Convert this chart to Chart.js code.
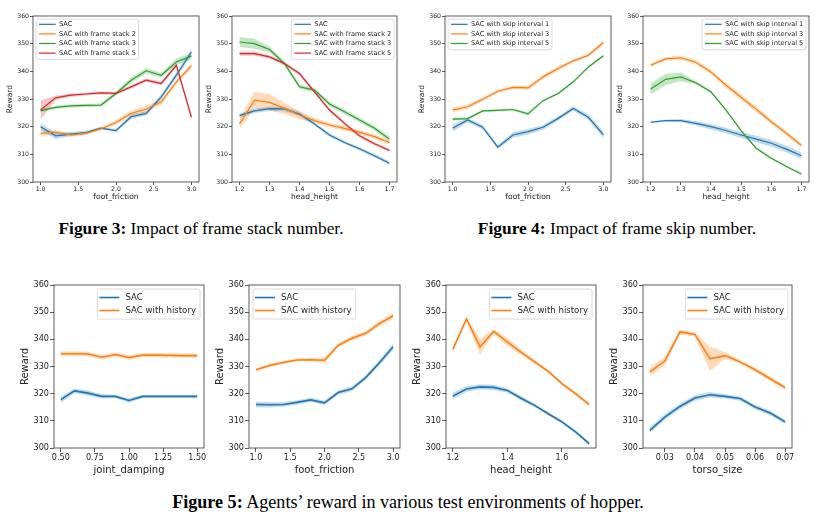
<!DOCTYPE html>
<html>
<head>
<meta charset="utf-8">
<script src="https://cdn.jsdelivr.net/npm/chart.js@4.4.1/dist/chart.umd.min.js"></script>
<style>
    body { margin: 0; background: #fff; width: 831px; height: 522px; overflow: hidden; position: relative; }
    .box { position: absolute; }
    .cap { position: absolute; font-family: "Liberation Serif", serif; line-height: 18px; color: #000; white-space: nowrap; transform: translateX(-50%); }
</style>
</head>
<body>
<div class="cap" style="left:201px; top:219px; font-size:17.4px"><b>Figure 3:</b> Impact of frame stack number.</div>
<div class="cap" style="left:617px; top:219px; font-size:17.4px"><b>Figure 4:</b> Impact of frame skip number.</div>
<div class="cap" style="left:408px; top:493px; font-size:18.1px"><b>Figure 5:</b> Agents’ reward in various test environments of hopper.</div>
<script>
// x values of the test environments
const frictionX = [1.0, 1.2, 1.4, 1.6, 1.8, 2.0, 2.2, 2.4, 2.6, 2.8, 3.0];
const heightX = [1.2, 1.25, 1.3, 1.35, 1.4, 1.45, 1.5, 1.55, 1.6, 1.65, 1.7];
const dampingX = [0.5, 0.6, 0.7, 0.8, 0.9, 1.0, 1.1, 1.2, 1.3, 1.4, 1.5];
const torsoX = [0.025, 0.03, 0.035, 0.04, 0.045, 0.05, 0.055, 0.06, 0.065, 0.07];

// legend labels
const stackLabels = ["SAC", "SAC with frame stack 2", "SAC with frame stack 3", "SAC with frame stack 5"];
const skipLabels = ["SAC with skip interval 1", "SAC with skip interval 3", "SAC with skip interval 5"];
const historyLabels = ["SAC", "SAC with history"];

// tick labels
const rewardTicks = ["300", "310", "320", "330", "340", "350", "360"];
const frictionTicks = ["1.0", "1.5", "2.0", "2.5", "3.0"];
const heightTicksTop = ["1.2", "1.3", "1.4", "1.5", "1.6", "1.7"];
const heightTicksBottom = ["1.2", "1.4", "1.6"];
const dampingTicks = ["0.50", "0.75", "1.00", "1.25", "1.50"];
const torsoTicks = ["0.03", "0.04", "0.05", "0.06", "0.07"];

// Figure 3 - foot_friction
const stackFricSac = [320, 316.7, 317.3, 317.9, 319.5, 318.6, 323.6, 324.8, 330.8, 338.6, 347];
const stackFricSacErr = [1.2, 1.2, 0.8, 0.6, 0.5, 0.5, 0.8, 0.8, 0.8, 1, 1.2];
const stackFric2 = [317.6, 318, 317, 317.6, 319.2, 321.5, 324.8, 326.3, 329, 336.2, 342];
const stackFric2Err = [1, 0.8, 0.6, 0.6, 0.5, 0.8, 1, 1.2, 1, 0.8, 1];
const stackFric3 = [325.8, 327, 327.5, 327.7, 327.8, 332, 336.8, 340.2, 338.6, 343.4, 345.5];
const stackFric3Err = [0.6, 0.6, 0.6, 0.6, 0.6, 0.8, 1, 1, 0.8, 1.2, 1];
const stackFric5 = [326, 330.4, 331.4, 331.8, 332.2, 332, 334.4, 336.8, 335.6, 342.2, 323.4];
const stackFric5Err = [3.5, 0.8, 0.6, 0.5, 0.5, 0.5, 0.6, 0.6, 0.6, 0.6, 0.8];

// Figure 3 - head_height
const stackHeadSac = [324, 325.7, 326.5, 326.4, 324.6, 321, 317, 314.3, 312, 309.5, 306.8];
const stackHeadSacErr = [0.8, 0.8, 0.8, 0.8, 0.8, 0.6, 0.6, 0.6, 0.6, 0.6, 0.6];
const stackHead2 = [321, 329.6, 328.8, 326.6, 324.2, 322.2, 320.6, 319.4, 318, 316.4, 314.3];
const stackHead2Err = [1.8, 3, 3, 2, 1.5, 1, 0.8, 0.8, 0.8, 0.8, 0.8];
const stackHead3 = [350.6, 350, 347.9, 342.8, 334.4, 333.2, 328.2, 325.4, 322.4, 319.4, 315.5];
const stackHead3Err = [1.8, 1.8, 1, 0.8, 0.8, 0.8, 0.8, 0.8, 0.8, 0.8, 1];
const stackHead5 = [346.4, 346.4, 345.2, 342.8, 339.2, 332.6, 326, 321.2, 316.7, 313.8, 311.4];
const stackHead5Err = [0.8, 0.8, 0.6, 0.6, 0.6, 0.6, 0.6, 0.6, 0.6, 0.6, 0.6];

// Figure 4 - foot_friction
const skipFric1 = [319.4, 322.4, 319.8, 312.6, 317, 318.2, 319.8, 323, 326.6, 323.4, 317];
const skipFric1Err = [1.2, 0.8, 0.8, 0.8, 1, 1, 0.8, 0.8, 0.8, 1, 1.2];
const skipFric3 = [326, 327.2, 329.9, 332.8, 334.2, 334, 338, 341, 343.8, 345.8, 350.4];
const skipFric3Err = [0.8, 0.8, 0.6, 0.6, 0.6, 0.8, 0.8, 0.8, 0.6, 0.6, 0.8];
const skipFric5 = [322.7, 322.9, 325.7, 325.9, 326.2, 324.6, 329.4, 332, 336.2, 341.6, 345.6];
const skipFric5Err = [0.6, 0.4, 0.4, 0.4, 0.4, 0.6, 0.4, 0.4, 0.4, 0.4, 0.4];

// Figure 4 - head_height
const skipHead1 = [321.6, 322.2, 322.2, 321.2, 320, 318.6, 317, 315.5, 314, 311.9, 309.5];
const skipHead1Err = [0.4, 0.4, 0.6, 0.8, 1, 1, 1.1, 1.2, 1.2, 1.2, 1.2];
const skipHead3 = [342.2, 344.5, 344.9, 343.3, 339.8, 335, 330.6, 326.3, 321.8, 317.6, 313.2];
const skipHead3Err = [0.6, 0.6, 0.8, 0.8, 0.8, 1, 1, 1, 0.8, 0.8, 0.8];
const skipHead5 = [333.6, 337.1, 338, 335.9, 332.6, 326, 318.6, 312.2, 308.6, 305.6, 302.9];
const skipHead5Err = [2, 2, 1.6, 0.6, 0.4, 0.4, 0.4, 0.4, 0.4, 0.4, 0.4];

// Figure 5 - joint_damping
const histDampSac = [317.8, 321, 320.2, 319, 319, 317.5, 319, 319, 319, 319, 319];
const histDampSacErr = [1.2, 0.8, 1, 0.8, 0.6, 0.8, 0.6, 0.6, 0.6, 0.6, 0.6];
const histDampHist = [334.7, 334.7, 334.6, 333.4, 334.4, 333.3, 334.2, 334.2, 334.1, 334, 334];
const histDampHistErr = [0.8, 0.8, 0.8, 0.8, 0.8, 0.8, 0.8, 0.8, 0.8, 0.8, 0.8];

// Figure 5 - foot_friction
const histFricSac = [316, 315.9, 316, 316.8, 317.7, 316.6, 320.4, 321.8, 325.9, 331.4, 337.3];
const histFricSacErr = [1, 1, 0.8, 0.8, 0.8, 0.8, 0.8, 0.8, 0.8, 1, 1.2];
const histFricHist = [328.8, 330.4, 331.5, 332.4, 332.5, 332.3, 337.8, 340.4, 342.2, 345.8, 348.7];
const histFricHistErr = [0.6, 0.6, 0.6, 0.6, 0.6, 1, 0.8, 0.8, 0.8, 1, 1];

// Figure 5 - head_height
const histHeadSac = [319.1, 321.7, 322.5, 322.3, 321.2, 318.3, 315.7, 312.6, 309.6, 305.9, 301.6];
const histHeadSacErr = [1.2, 1, 1, 1, 0.8, 0.8, 0.6, 0.6, 0.6, 0.6, 0.6];
const histHeadHist = [336.3, 347.5, 337.2, 342.9, 339, 335.3, 331.7, 328.2, 323.7, 320, 316];
const histHeadHistErr = [0.8, 0.6, 3, 0.8, 1.5, 1, 0.8, 0.6, 0.6, 0.6, 0.6];

// Figure 5 - torso_size
const histTorsoSac = [306.5, 311.4, 315.3, 318.4, 319.6, 319, 318.2, 315.1, 312.9, 309.6];
const histTorsoSacErr = [1, 1, 1, 1, 1, 0.8, 0.8, 0.8, 0.8, 0.8];
const histTorsoHist = [328, 332, 342.7, 341.8, 332.8, 334, 331.7, 328.8, 325.5, 322.2];
const histTorsoHistErr = [1.5, 1.5, 1, 0.8, 4.5, 1.2, 0.8, 0.8, 0.8, 0.8];

const colors = ["#1f77b4", "#ff7f0e", "#2ca02c", "#d62728"];
const bandColors = ["rgba(31,119,180,0.28)", "rgba(255,127,14,0.28)", "rgba(44,160,44,0.28)", "rgba(214,39,40,0.28)"];

// axes frame on all four sides, like matplotlib
const frame = {
    id: "frame",
    afterDraw(chart) {
        const a = chart.chartArea, ctx = chart.ctx;
        ctx.save();
        ctx.strokeStyle = "#333";
        ctx.lineWidth = 0.8;
        ctx.strokeRect(a.left, a.top, a.right - a.left, a.bottom - a.top);
        ctx.restore();
    }
};

// legend box inside the plot
const boxLegend = {
    id: "boxLegend",
    afterDatasetsDraw(chart, args, o) {
        const ctx = chart.ctx, a = chart.chartArea;
        const items = chart.data.datasets.filter(d => d.label);
        ctx.save();
        ctx.font = o.size + 'px "DejaVu Sans"';
        const tw = Math.max(...items.map(d => ctx.measureText(d.label).width));
        const w = o.padL + o.line + o.gap + tw + o.padR;
        const h = o.row * items.length + o.extraT + o.extraB;
        const x = o.side === "left" ? a.left + o.off : a.right - o.off - w;
        const y = a.top + o.off;
        ctx.beginPath();
        ctx.roundRect(x, y, w, h, 2);
        ctx.fillStyle = "rgba(255,255,255,0.85)";
        ctx.fill();
        ctx.strokeStyle = "#d0d0d0";
        ctx.lineWidth = 0.8;
        ctx.stroke();
        ctx.textBaseline = "middle";
        ctx.fillStyle = "#222";
        items.forEach((d, i) => {
            const cy = y + o.extraT + o.row * (i + 0.5);
            ctx.beginPath();
            ctx.moveTo(x + o.padL, cy);
            ctx.lineTo(x + o.padL + o.line, cy);
            ctx.strokeStyle = d.borderColor;
            ctx.lineWidth = d.borderWidth;
            ctx.stroke();
            ctx.fillText(d.label, x + o.padL + o.line + o.gap, cy);
        });
        ctx.restore();
    }
};

const topStyle = { YW: 28, XH: 20, TP: 6, RP: 8, tick: 6.2, title: 7.6, lw: 1.2, tl: 3,
    legend: { size: 6.6, row: 9.6, line: 16.7, gap: 3.3, padL: 3, padR: 2.7, extraT: 0.5, extraB: 1.5, off: 3 } };
const bottomStyle = { YW: 35, XH: 28, TP: 6, RP: 12, tick: 8.1, title: 10, lw: 1.6, tl: 4,
    legend: { size: 8.6, row: 13, line: 20, gap: 6, padL: 2, padR: 4, extraT: 2, extraB: 2, off: 4 } };

function makeChart(rect, st, cfg) {
    const [l, t, r, b] = rect;
    const div = document.createElement("div");
    div.className = "box";
    div.style.left = (l - st.YW) + "px";
    div.style.top = (t - st.TP) + "px";
    div.style.width = (r - l + st.YW + st.RP) + "px";
    div.style.height = (b - t + st.TP + st.XH) + "px";
    const cv = document.createElement("canvas");
    div.appendChild(cv);
    document.body.appendChild(div);

    const datasets = [];
    cfg.series.forEach((s, k) => {
        datasets.push({ label: "", data: cfg.x.map((x, i) => ({ x: x, y: s.y[i] + s.err[i] })),
            fill: "+1", backgroundColor: bandColors[k], borderColor: "rgba(0,0,0,0)", borderWidth: 1, pointRadius: 0, order: 200 });
        datasets.push({ label: "", data: cfg.x.map((x, i) => ({ x: x, y: s.y[i] - s.err[i] })),
            fill: false, borderColor: "rgba(0,0,0,0)", borderWidth: 1, pointRadius: 0, order: 200 });
    });
    cfg.series.forEach((s, k) => {
        datasets.push({ label: s.label, data: cfg.x.map((x, i) => ({ x: x, y: s.y[i] })),
            borderColor: colors[k], borderWidth: st.lw, pointRadius: 0, fill: false, tension: 0, order: 100 - k });
    });

    const tickFont = { family: "DejaVu Sans", size: st.tick };
    const titleFont = { family: "DejaVu Sans", size: st.title };
    const grid = { display: true, drawOnChartArea: false, drawTicks: true, tickLength: st.tl, color: "#333", lineWidth: 0.8 };

    new Chart(cv, {
        type: "line",
        data: { datasets: datasets },
        options: {
            responsive: true,
            maintainAspectRatio: false,
            animation: false,
            layout: { padding: { top: st.TP, right: st.RP, left: 0, bottom: 0 } },
            plugins: {
                legend: { display: false },
                tooltip: { enabled: false },
                boxLegend: Object.assign({ side: cfg.legendSide }, st.legend)
            },
            scales: {
                x: {
                    type: "linear",
                    min: cfg.xMin,
                    max: cfg.xMax,
                    grid: grid,
                    border: { display: false },
                    afterBuildTicks: (s) => { s.ticks = cfg.xTicks.map(v => ({ value: parseFloat(v) })); },
                    afterFit: (s) => { s.height = st.XH; },
                    ticks: { font: tickFont, color: "#222", padding: 1, maxRotation: 0, autoSkip: false,
                        callback: (v, i) => cfg.xTicks[i] },
                    title: { display: true, text: cfg.xTitle, font: titleFont, color: "#222", padding: 0 }
                },
                y: {
                    min: 300,
                    max: 360,
                    grid: grid,
                    border: { display: false },
                    afterBuildTicks: (s) => { s.ticks = rewardTicks.map(v => ({ value: parseFloat(v) })); },
                    afterFit: (s) => { s.width = st.YW; },
                    ticks: { font: tickFont, color: "#222", padding: 1, callback: (v, i) => rewardTicks[i] },
                    title: { display: true, text: "Reward", font: titleFont, color: "#222", padding: 0 }
                }
            }
        },
        plugins: [frame, boxLegend]
    });
}

// Figure 3
makeChart([33, 16, 199, 182], topStyle, {
    x: frictionX, xMin: 0.9, xMax: 3.1, xTicks: frictionTicks, xTitle: "foot_friction", legendSide: "left",
    series: [
        { label: stackLabels[0], y: stackFricSac, err: stackFricSacErr },
        { label: stackLabels[1], y: stackFric2, err: stackFric2Err },
        { label: stackLabels[2], y: stackFric3, err: stackFric3Err },
        { label: stackLabels[3], y: stackFric5, err: stackFric5Err }
    ]
});
makeChart([232, 16, 397, 182], topStyle, {
    x: heightX, xMin: 1.175, xMax: 1.725, xTicks: heightTicksTop, xTitle: "head_height", legendSide: "right",
    series: [
        { label: stackLabels[0], y: stackHeadSac, err: stackHeadSacErr },
        { label: stackLabels[1], y: stackHead2, err: stackHead2Err },
        { label: stackLabels[2], y: stackHead3, err: stackHead3Err },
        { label: stackLabels[3], y: stackHead5, err: stackHead5Err }
    ]
});

// Figure 4
makeChart([445, 16, 611, 182], topStyle, {
    x: frictionX, xMin: 0.9, xMax: 3.1, xTicks: frictionTicks, xTitle: "foot_friction", legendSide: "left",
    series: [
        { label: skipLabels[0], y: skipFric1, err: skipFric1Err },
        { label: skipLabels[1], y: skipFric3, err: skipFric3Err },
        { label: skipLabels[2], y: skipFric5, err: skipFric5Err }
    ]
});
makeChart([643, 16, 809, 182], topStyle, {
    x: heightX, xMin: 1.175, xMax: 1.725, xTicks: heightTicksTop, xTitle: "head_height", legendSide: "right",
    series: [
        { label: skipLabels[0], y: skipHead1, err: skipHead1Err },
        { label: skipLabels[1], y: skipHead3, err: skipHead3Err },
        { label: skipLabels[2], y: skipHead5, err: skipHead5Err }
    ]
});

// Figure 5
makeChart([54, 285, 204, 448], bottomStyle, {
    x: dampingX, xMin: 0.45, xMax: 1.55, xTicks: dampingTicks, xTitle: "joint_damping", legendSide: "right",
    series: [
        { label: historyLabels[0], y: histDampSac, err: histDampSacErr },
        { label: historyLabels[1], y: histDampHist, err: histDampHistErr }
    ]
});
makeChart([249, 285, 400, 448], bottomStyle, {
    x: frictionX, xMin: 0.9, xMax: 3.1, xTicks: frictionTicks, xTitle: "foot_friction", legendSide: "left",
    series: [
        { label: historyLabels[0], y: histFricSac, err: histFricSacErr },
        { label: historyLabels[1], y: histFricHist, err: histFricHistErr }
    ]
});
makeChart([446, 285, 596, 448], bottomStyle, {
    x: heightX, xMin: 1.175, xMax: 1.725, xTicks: heightTicksBottom, xTitle: "head_height", legendSide: "right",
    series: [
        { label: historyLabels[0], y: histHeadSac, err: histHeadSacErr },
        { label: historyLabels[1], y: histHeadHist, err: histHeadHistErr }
    ]
});
makeChart([643, 285, 792, 448], bottomStyle, {
    x: torsoX, xMin: 0.02275, xMax: 0.07225, xTicks: torsoTicks, xTitle: "torso_size", legendSide: "right",
    series: [
        { label: historyLabels[0], y: histTorsoSac, err: histTorsoSacErr },
        { label: historyLabels[1], y: histTorsoHist, err: histTorsoHistErr }
    ]
});
</script>
</body>
</html>
